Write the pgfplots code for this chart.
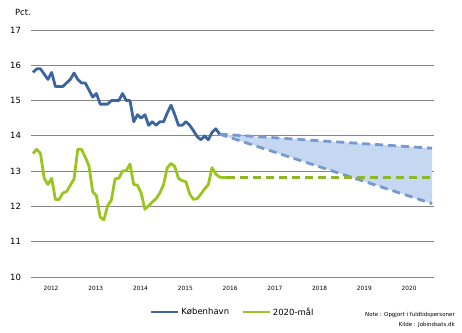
\documentclass[border=0pt]{standalone}
\usepackage{fontspec}
\setmainfont{DejaVu Sans}
\usepackage{pgfplots}
\pgfplotsset{compat=1.18}
\definecolor{kbh}{RGB}{58,101,160}
\definecolor{mal}{RGB}{154,196,30}
\definecolor{maldash}{RGB}{140,184,40}
\definecolor{projblue}{RGB}{118,153,208}
\definecolor{projfill}{RGB}{197,215,241}
\definecolor{gridgray}{RGB}{134,134,134}
\pgfplotstableread{
i v
0 15.8
1 15.9
2 15.9
3 15.75
4 15.6
5 15.8
6 15.4
7 15.4
8 15.4
9 15.5
10 15.6
11 15.78
12 15.6
13 15.5
14 15.5
15 15.3
16 15.1
17 15.2
18 14.9
19 14.9
20 14.9
21 15.0
22 15.0
23 15.0
24 15.2
25 15.0
26 15.0
27 14.4
28 14.6
29 14.5
30 14.6
31 14.3
32 14.4
33 14.3
34 14.4
35 14.4
36 14.65
37 14.87
38 14.6
39 14.3
40 14.3
41 14.4
42 14.3
43 14.15
44 13.98
45 13.89
46 14.0
47 13.89
48 14.1
49 14.2
50 14.05
}\kbh
\pgfplotstableread{
i v
0 13.5
1 13.62
2 13.5
3 12.8
4 12.62
5 12.8
6 12.2
7 12.2
8 12.38
9 12.42
10 12.6
11 12.78
12 13.62
13 13.62
14 13.4
15 13.15
16 12.42
17 12.3
18 11.7
19 11.62
20 12.02
21 12.18
22 12.78
23 12.8
24 13.0
25 13.02
26 13.2
27 12.62
28 12.6
29 12.38
30 11.92
31 12.02
32 12.13
33 12.22
34 12.38
35 12.62
36 13.1
37 13.22
38 13.13
39 12.79
40 12.73
41 12.7
42 12.35
43 12.2
44 12.22
45 12.35
46 12.5
47 12.62
48 13.1
49 12.92
50 12.83
51 12.82
52 12.82
}\mal
\begin{document}
\begin{tikzpicture}
\useasboundingbox (0pt,0pt) rectangle (462pt,332pt);
\begin{axis}[
  at={(31pt,55pt)}, anchor=south west,
  scale only axis, width=403pt, height=247pt,
  xmin=-0.54, xmax=107.5, ymin=10, ymax=17,
  ytick={10,11,12,13,14,15,16,17},
  xtick={4.83,16.83,28.83,40.83,52.83,64.83,76.83,88.83,100.83},
  xticklabels={2012,2013,2014,2015,2016,2017,2018,2019,2020},
  /pgf/number format/assume math mode=true,
  ymajorgrids, grid style={gridgray, line width=0.9pt},
  axis line style={draw=none}, major tick length=0pt,
  yticklabel style={font=\fontsize{8.5}{10}\selectfont, xshift=-6.5pt},
  xticklabel style={font=\fontsize{5.8}{7}\selectfont, yshift=-6pt},
  legend style={at={(0.5,-0.142)}, anchor=center, draw=none, fill=none,
    legend columns=2, font=\fontsize{8.5}{10}\selectfont,
    /tikz/every even column/.append style={column sep=10pt},
    inner sep=0pt},
  legend image code/.code={\draw[#1] (0pt,0pt) -- (27pt,0pt);},
]
\addplot[forget plot, fill=projfill, draw=none] coordinates {(50,14.05) (107,13.65) (107,12.08)} -- cycle;
\addplot[forget plot, projblue, line width=2.8pt, dash pattern=on 8pt off 5pt] coordinates {(50,14.05) (107,13.65)};
\addplot[forget plot, projblue, line width=2.8pt, dash pattern=on 8pt off 5pt] coordinates {(50,14.05) (107,12.08)};
\addplot[forget plot, maldash, line width=2.8pt, dash pattern=on 8pt off 5pt] coordinates {(52,12.82) (107,12.82)};
\addplot[kbh, line width=2.8pt, line join=round] table[x=i,y=v] {\kbh};
\addlegendentry{København}
\addplot[mal, line width=2.8pt, line join=round] table[x=i,y=v] {\mal};
\addlegendentry{2020-mål}
\end{axis}
\node[font=\fontsize{8.5}{10}\selectfont] at (23pt,319.5pt) {Pct.};
\node[anchor=east, font=\fontsize{5.5}{6}\selectfont, inner sep=0pt] at (455pt,17pt) {Note : Opgjort i fuldtidspersoner};
\node[anchor=east, font=\fontsize{5.5}{6}\selectfont, inner sep=0pt] at (455pt,7pt) {Kilde : Jobindsats.dk};
\end{tikzpicture}
\end{document}
